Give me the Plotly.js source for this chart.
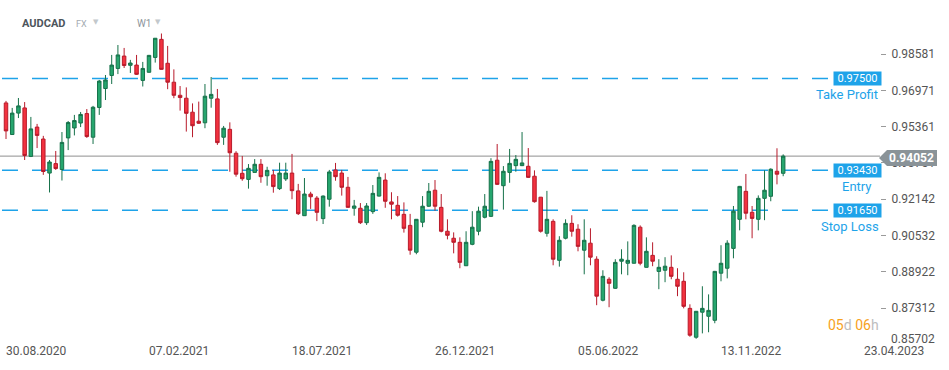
<!DOCTYPE html>
<html><head><meta charset="utf-8">
<script src="https://cdn.plot.ly/plotly-3.0.1.min.js"></script>
<style>html,body{margin:0;padding:0;background:#fff;overflow:hidden}#chart{width:949px;height:370px}</style>
</head><body><div id="chart"></div>
<script>
const dates = [
'2020-08-30','2020-09-06','2020-09-13','2020-09-20','2020-09-27','2020-10-04','2020-10-11','2020-10-18','2020-10-25','2020-11-01','2020-11-08','2020-11-15','2020-11-22','2020-11-29','2020-12-06','2020-12-13','2020-12-20','2020-12-27',
'2021-01-03','2021-01-10','2021-01-17','2021-01-24','2021-01-31','2021-02-07','2021-02-14','2021-02-21','2021-02-28','2021-03-07','2021-03-14','2021-03-21','2021-03-28','2021-04-04','2021-04-11','2021-04-18','2021-04-25','2021-05-02','2021-05-09','2021-05-16','2021-05-23','2021-05-30','2021-06-06','2021-06-13','2021-06-20','2021-06-27','2021-07-04','2021-07-11','2021-07-18','2021-07-25','2021-08-01','2021-08-08','2021-08-15','2021-08-22','2021-08-29','2021-09-05','2021-09-12','2021-09-19','2021-09-26','2021-10-03','2021-10-10','2021-10-17','2021-10-24','2021-10-31','2021-11-07','2021-11-14','2021-11-21','2021-11-28','2021-12-05','2021-12-12','2021-12-19','2021-12-26',
'2022-01-02','2022-01-09','2022-01-16','2022-01-23','2022-01-30','2022-02-06','2022-02-13','2022-02-20','2022-02-27','2022-03-06','2022-03-13','2022-03-20','2022-03-27','2022-04-03','2022-04-10','2022-04-17','2022-04-24','2022-05-01','2022-05-08','2022-05-15','2022-05-22','2022-05-29','2022-06-05','2022-06-12','2022-06-19','2022-06-26','2022-07-03','2022-07-10','2022-07-17','2022-07-24','2022-07-31','2022-08-07','2022-08-14','2022-08-21','2022-08-28','2022-09-04','2022-09-11','2022-09-18','2022-09-25','2022-10-02','2022-10-09','2022-10-16','2022-10-23','2022-10-30','2022-11-06','2022-11-13','2022-11-20','2022-11-27','2022-12-04','2022-12-11','2022-12-18','2022-12-25',
'2023-01-01','2023-01-08','2023-01-15','2023-01-22'];

const openP = [0.9641,0.9501,0.9596,0.9619,0.9404,0.9534,0.9481,0.9330,0.9372,0.9346,
0.9486,0.9530,0.9552,0.9594,0.9489,0.9621,0.9705,0.9763,0.9794,0.9849,
0.9808,0.9809,0.9741,0.9777,0.9843,0.9923,0.9817,0.9733,0.9675,0.9662,
0.9600,0.9560,0.9553,0.9662,0.9659,0.9489,0.9524,0.9418,0.9329,0.9302,
0.9333,0.9369,0.9318,0.9322,0.9261,0.9304,0.9330,0.9251,0.9141,0.9237,
0.9219,0.9128,0.9214,0.9344,0.9330,0.9267,0.9174,0.9174,0.9110,0.9159,
0.9228,0.9299,0.9202,0.9187,0.9147,0.9098,0.8979,0.9112,0.9183,0.9254,
0.9178,0.9072,0.9041,0.9023,0.8919,0.9014,0.9072,0.9134,0.9138,0.9387,
0.9274,0.9333,0.9363,0.9363,0.9360,0.9316,0.9223,0.9063,0.9116,0.8943,
0.9041,0.9107,0.9081,0.8988,0.9019,0.8948,0.8766,0.8859,0.8819,0.8939,
0.8930,0.8930,0.9090,0.8912,0.8965,0.8894,0.8899,0.8912,0.8859,0.8850,
0.8730,0.8602,0.8713,0.8695,0.8677,0.8886,0.8908,0.8996,0.9125,0.9249,
0.9156,0.9125,0.9218,0.9227,0.9338,0.9329];

const highP = [0.9650,0.9619,0.9663,0.9645,0.9579,0.9548,0.9495,0.9388,0.9428,0.9512,
0.9561,0.9588,0.9601,0.9614,0.9628,0.9743,0.9765,0.9854,0.9898,0.9885,
0.9832,0.9854,0.9823,0.9854,0.9929,0.9949,0.9894,0.9790,0.9716,0.9710,
0.9639,0.9647,0.9725,0.9756,0.9703,0.9539,0.9555,0.9427,0.9406,0.9370,
0.9392,0.9392,0.9358,0.9344,0.9376,0.9376,0.9415,0.9282,0.9308,0.9247,
0.9228,0.9231,0.9344,0.9375,0.9344,0.9313,0.9211,0.9197,0.9197,0.9277,
0.9333,0.9329,0.9245,0.9228,0.9200,0.9149,0.9126,0.9228,0.9286,0.9299,
0.9237,0.9125,0.9067,0.9045,0.9072,0.9161,0.9181,0.9237,0.9396,0.9459,
0.9361,0.9437,0.9410,0.9512,0.9441,0.9342,0.9224,0.9251,0.9125,0.9050,
0.9125,0.9143,0.9103,0.9125,0.9085,0.8961,0.8899,0.8868,0.8948,0.8992,
0.9027,0.9103,0.9098,0.9045,0.9023,0.8948,0.8957,0.8965,0.8908,0.8890,
0.8748,0.8718,0.8828,0.8792,0.8896,0.9010,0.9032,0.9184,0.9273,0.9326,
0.9184,0.9231,0.9342,0.9351,0.9440,0.9413];

const lowP = [0.9481,0.9499,0.9574,0.9388,0.9401,0.9441,0.9322,0.9244,0.9344,0.9297,
0.9432,0.9497,0.9534,0.9486,0.9459,0.9588,0.9654,0.9725,0.9769,0.9796,
0.9774,0.9765,0.9714,0.9776,0.9820,0.9789,0.9702,0.9662,0.9607,0.9514,
0.9489,0.9548,0.9529,0.9620,0.9455,0.9455,0.9336,0.9314,0.9296,0.9261,
0.9333,0.9287,0.9274,0.9243,0.9255,0.9295,0.9214,0.9144,0.9140,0.9171,
0.9117,0.9104,0.9181,0.9296,0.9230,0.9177,0.9141,0.9104,0.9100,0.9149,
0.9226,0.9176,0.9125,0.9137,0.9066,0.8968,0.8970,0.9090,0.9180,0.9163,
0.9067,0.9036,0.8974,0.8908,0.8918,0.9010,0.9054,0.9129,0.9135,0.9277,
0.9168,0.9287,0.9336,0.9361,0.9308,0.9199,0.9066,0.9048,0.8921,0.8915,
0.9036,0.9048,0.8983,0.8881,0.8921,0.8744,0.8761,0.8735,0.8816,0.8881,
0.8877,0.8929,0.8921,0.8911,0.8917,0.8815,0.8846,0.8859,0.8784,0.8730,
0.8604,0.8595,0.8619,0.8624,0.8664,0.8850,0.8863,0.8952,0.9076,0.9125,
0.9041,0.9076,0.9121,0.9205,0.9280,0.9316];

const closeP = [0.9517,0.9596,0.9628,0.9408,0.9526,0.9497,0.9337,0.9379,0.9350,0.9466,
0.9554,0.9563,0.9590,0.9492,0.9622,0.9738,0.9743,0.9809,0.9854,0.9807,
0.9818,0.9768,0.9794,0.9852,0.9928,0.9790,0.9733,0.9675,0.9665,0.9595,
0.9540,0.9551,0.9671,0.9679,0.9465,0.9529,0.9420,0.9325,0.9305,0.9351,
0.9369,0.9314,0.9342,0.9270,0.9330,0.9330,0.9252,0.9150,0.9237,0.9225,
0.9156,0.9228,0.9335,0.9314,0.9267,0.9178,0.9184,0.9110,0.9184,0.9240,
0.9311,0.9205,0.9192,0.9143,0.9085,0.8988,0.9125,0.9183,0.9249,0.9183,
0.9072,0.9054,0.9023,0.8934,0.9023,0.9090,0.9161,0.9183,0.9382,0.9280,
0.9338,0.9373,0.9391,0.9375,0.9311,0.9203,0.9072,0.9125,0.8948,0.9032,
0.9107,0.9072,0.9005,0.9032,0.8957,0.8784,0.8872,0.8841,0.8934,0.8948,
0.8943,0.9098,0.8930,0.8983,0.8939,0.8912,0.8917,0.8872,0.8828,0.8739,
0.8611,0.8717,0.8730,0.8721,0.8894,0.8930,0.9019,0.9161,0.9271,0.9152,
0.9129,0.9218,0.9254,0.9347,0.9325,0.94052];

const levelValues = [0.975, 0.9343, 0.9165];
const levelLabels = ['0.97500', '0.93430', '0.91650'];
const levelNames = ['Take Profit', 'Entry', 'Stop Loss'];
const lastPrice = 0.94052;
const lastPriceLabel = '0.94052';
const yTickVals = [0.98581, 0.96971, 0.95361, 0.93751, 0.92142, 0.90532, 0.88922, 0.87312];
const yTickText = ['0.98581', '0.96971', '0.95361', '0.93751', '0.92142', '0.90532', '0.88922', '0.87312'];
const bottomTickLabel = '0.85702';
const xTickVals = ['2020-08-30', '2021-02-07', '2021-07-18', '2021-12-26', '2022-06-05', '2022-11-13', '2023-04-23'];
const xTickText = ['30.08.2020', '07.02.2021', '18.07.2021', '26.12.2021', '05.06.2022', '13.11.2022', '23.04.2023'];
const symbol = 'AUDCAD', market = 'FX', interval = 'W1';

// layout geometry (pixels)
const PW = 880, PH = 342;
const px = v => v / PW;
const py = v => (PH - v) / PH;
const FONT = 'Roboto, Arial, sans-serif';
const BLUE = '#1ea3e9';

const trace = {
  type: 'candlestick', x: dates, open: openP, high: highP, low: lowP, close: closeP,
  increasing: {line: {color: '#16714a', width: 1}, fillcolor: '#26a66e'},
  decreasing: {line: {color: '#b81b2b', width: 1}, fillcolor: '#f2323f'},
  whiskerwidth: 0, hoverinfo: 'skip'
};

const shapes = [];
const annotations = [];
levelValues.forEach((v, i) => {
  shapes.push({type: 'line', layer: 'below', xref: 'paper', yref: 'y', x0: px(2), x1: px(830), y0: v, y1: v,
    line: {color: BLUE, width: 1.5, dash: '16px,14px'}});
  annotations.push({xref: 'paper', yref: 'y', x: px(857.5), y: v, text: levelLabels[i], showarrow: false,
    xanchor: 'center', yanchor: 'middle', bgcolor: BLUE, width: 47, height: 13, borderpad: 0,
    font: {family: FONT, size: 11, color: '#ffffff'}});
  const nameX = [880, 874, 881][i];
  annotations.push({xref: 'paper', yref: 'y', x: px(nameX), y: v, yshift: -16, text: levelNames[i], showarrow: false,
    xanchor: 'right', yanchor: 'middle', font: {family: FONT, size: 13, color: BLUE}});
});
shapes.push({type: 'line', layer: 'below', xref: 'paper', yref: 'y', x0: 0, x1: px(880), y0: lastPrice, y1: lastPrice,
  line: {color: '#8e8e8e', width: 1}});
shapes.push({type: 'path', xref: 'paper', yref: 'paper',
  path: `M ${px(879)},${py(158)} L ${px(887)},${py(150)} L ${px(937)},${py(150)} L ${px(937)},${py(166)} L ${px(887)},${py(166)} Z`,
  fillcolor: '#8a9398', line: {width: 0}});
annotations.push({xref: 'paper', yref: 'paper', x: px(911), y: py(158), text: '<b>' + lastPriceLabel + '</b>', showarrow: false,
  xanchor: 'center', yanchor: 'middle', font: {family: FONT, size: 12, color: '#ffffff'}});
annotations.push({xref: 'paper', yref: 'paper', x: px(889), y: py(339), text: bottomTickLabel, showarrow: false,
  xanchor: 'left', yanchor: 'middle', font: {family: FONT, size: 12, color: '#555555'}});
annotations.push({xref: 'paper', yref: 'paper', x: px(881), y: py(325),
  text: '<span style="color:#f7a21b">05</span><span style="color:#bdbdbd">d</span> <span style="color:#f7a21b">06</span><span style="color:#bdbdbd">h</span>',
  showarrow: false, xanchor: 'right', yanchor: 'middle', font: {family: FONT, size: 14}});
annotations.push({xref: 'paper', yref: 'paper', x: px(20), y: py(23), text: '<b>' + symbol + '</b>', showarrow: false,
  xanchor: 'left', yanchor: 'middle', font: {family: FONT, size: 11, color: '#4d555c'}});
annotations.push({xref: 'paper', yref: 'paper', x: px(74), y: py(24), text: market, showarrow: false,
  xanchor: 'left', yanchor: 'middle', font: {family: FONT, size: 9, color: '#a3aab0'}});
annotations.push({xref: 'paper', yref: 'paper', x: px(135), y: py(23), text: interval, showarrow: false,
  xanchor: 'left', yanchor: 'middle', font: {family: FONT, size: 10, color: '#8d959c'}});
[96, 158].forEach(xc => annotations.push({xref: 'paper', yref: 'paper', x: px(xc), y: py(22), text: '▼', showarrow: false,
  xanchor: 'center', yanchor: 'middle', font: {family: 'DejaVu Sans', size: 7, color: '#c3c8cc'}}));

const layout = {
  width: 949, height: 370,
  margin: {l: 0, r: 949 - PW, t: 0, b: 370 - PH, pad: 0},
  paper_bgcolor: '#ffffff', plot_bgcolor: '#ffffff',
  showlegend: false, hovermode: false, dragmode: false, boxgap: 0.2,
  xaxis: {type: 'date', range: ['2020-08-23 06:00', '2023-05-11'], rangeslider: {visible: false},
    tickvals: xTickVals, ticktext: xTickText, ticks: '', ticklabelposition: 'outside right',
    showgrid: false, zeroline: false, showline: false, fixedrange: true,
    tickfont: {family: FONT, size: 12, color: '#555555'}},
  yaxis: {side: 'right', range: [0.85808, 1.00976], tickvals: yTickVals, ticktext: yTickText,
    ticks: 'outside', ticklen: 5, tickcolor: '#9a9a9a', tickwidth: 1, ticklabelstandoff: 3,
    showgrid: false, zeroline: false, showline: false, fixedrange: true,
    tickfont: {family: FONT, size: 12, color: '#555555'}},
  shapes: shapes, annotations: annotations
};

Plotly.newPlot('chart', [trace], layout, {displayModeBar: false, staticPlot: true});
</script></body></html>
